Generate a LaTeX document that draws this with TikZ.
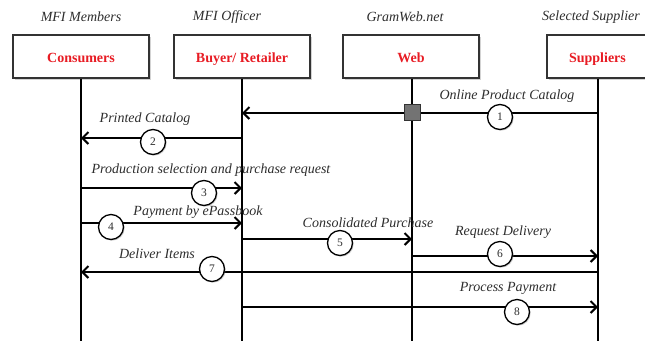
\documentclass[tikz,border=0pt]{standalone}
\usepackage{fontspec}
\setmainfont{Liberation Serif}
\usetikzlibrary{arrows.meta,shadows}
\definecolor{actred}{RGB}{232,28,36}
\definecolor{txtgray}{RGB}{45,45,45}
\tikzset{
  actor/.style={draw=black!80,line width=1.3pt,fill=white,minimum height=43pt,
    text=actred,font=\fontsize{14}{16}\selectfont\bfseries,text height=12.2pt,text depth=0pt,
    drop shadow={shadow xshift=1.5pt,shadow yshift=-1.5pt,opacity=0.35}},
  role/.style={font=\fontsize{14}{16}\selectfont\itshape,text=txtgray},
  lifeline/.style={line width=2.2pt},
  msg/.style={line width=2.2pt,-{Straight Barb[length=6pt,width=12pt,line width=2pt]}},
  msglabel/.style={font=\fontsize{14}{16}\selectfont\itshape,text=txtgray,inner sep=0pt},
  stepnum/.style={circle,draw=black,line width=1.3pt,fill=white,minimum size=25pt,inner sep=0pt,
    font=\fontsize{11.5}{14}\selectfont,text=txtgray,
    drop shadow={shadow xshift=1.2pt,shadow yshift=-1.2pt,opacity=0.35}},
  hub/.style={draw=black!80,line width=1pt,fill=black!55,minimum size=16pt,inner sep=0pt}
}
\begin{document}
\begin{tikzpicture}[x=1pt,y=-1pt]
\useasboundingbox (0,0) rectangle (645,341);
% actors
\node[actor,minimum width=136pt] (c) at (81,56.5) {Consumers};
\node[actor,minimum width=136pt] (b) at (242,56.5) {Buyer/ Retailer};
\node[actor,minimum width=136pt] (w) at (411,56.5) {Web};
\node[actor,minimum width=101pt] (s) at (597.5,56.5) {Suppliers};
% roles
\node[role] (rc) at (81,17) {MFI Members};
\node[role] (rb) at (227,17) {MFI Officer};
\node[role] (rw) at (405,17) {GramWeb.net};
\node[role] (rs) at (591,17) {Selected Supplier};
% lifeline ends
\coordinate (ce) at (81,341);
\coordinate (be) at (242,341);
\coordinate (we) at (412,341);
\coordinate (se) at (598,341);
\draw[lifeline] (c.south) -- (ce);
\draw[lifeline] (b.south) -- (be);
\draw[lifeline] ([xshift=1pt]w.south) -- (we);
\draw[lifeline] ([xshift=0.5pt]s.south) -- (se);
% 1 Online Product Catalog
\draw[msg] (se |- 0,113) -- (be |- 0,113);
\node[hub] (h) at (412,112) {};
\node[stepnum] (n1) at (500,117) {1};
\node[msglabel] (l1) at (507,96) {Online Product Catalog};
% 2 Printed Catalog
\draw[msg] (be |- 0,138) -- (ce |- 0,138);
\node[stepnum] (n2) at (153,142) {2};
\node[msglabel] (l2) at (145,119) {Printed Catalog};
% 3 Production selection
\draw[msg] (ce |- 0,188) -- (be |- 0,188);
\node[stepnum] (n3) at (204,193) {3};
\node[msglabel] (l3) at (211,170) {Production selection and purchase request};
% 4 Payment by ePassbook
\draw[msg] (ce |- 0,223) -- (be |- 0,223);
\node[stepnum] (n4) at (111,227) {4};
\node[msglabel] (l4) at (198,212) {Payment by ePassbook};
% 5 Consolidated Purchase
\draw[msg] (be |- 0,239) -- (we |- 0,239);
\node[stepnum] (n5) at (340,243) {5};
\node[msglabel] (l5) at (368,223) {Consolidated Purchase};
% 6 Request Delivery
\draw[msg] (we |- 0,256) -- (se |- 0,256);
\node[stepnum] (n6) at (500,254) {6};
\node[msglabel] (l6) at (503,232) {Request Delivery};
% 7 Deliver Items
\draw[msg] (se |- 0,272) -- (ce |- 0,272);
\node[stepnum] (n7) at (212,269) {7};
\node[msglabel] (l7) at (157,254) {Deliver Items};
% 8 Process Payment
\draw[msg] (be |- 0,307) -- (se |- 0,307);
\node[stepnum] (n8) at (517,312) {8};
\node[msglabel] (l8) at (508,288) {Process Payment};
\end{tikzpicture}
\end{document}
